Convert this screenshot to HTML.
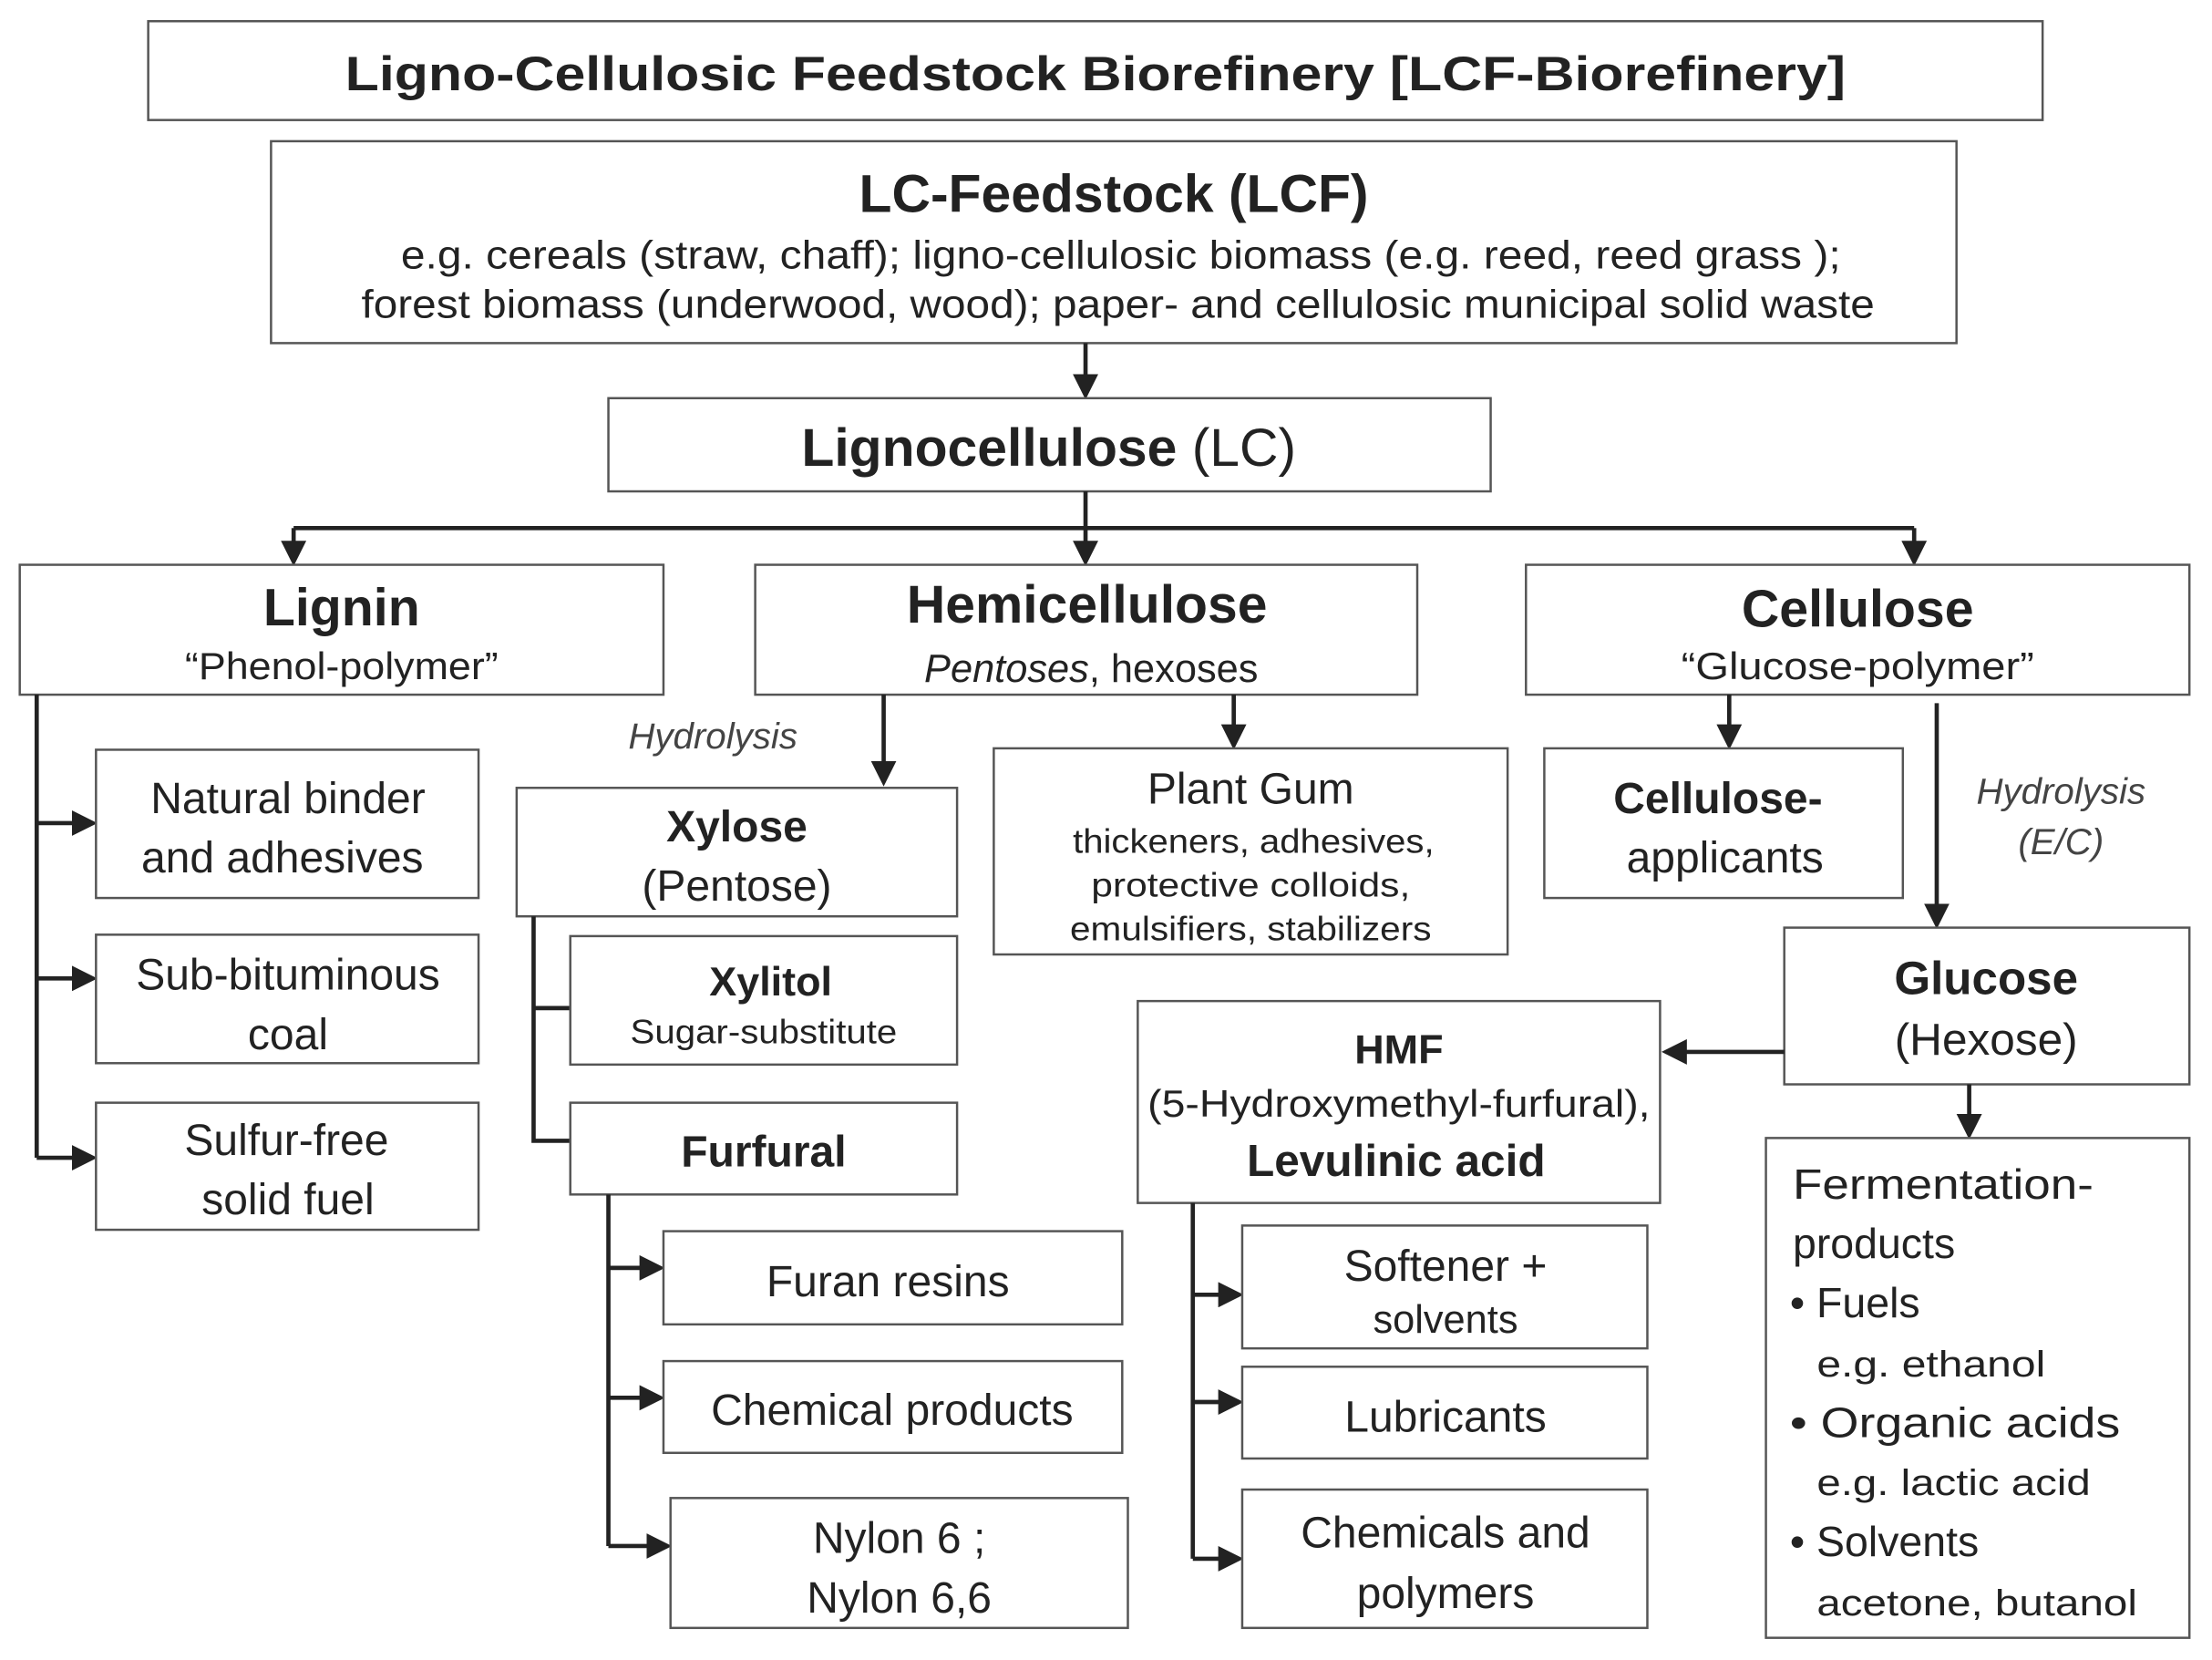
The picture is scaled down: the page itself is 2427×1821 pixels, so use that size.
<!DOCTYPE html>
<html><head><meta charset="utf-8"><style>
html,body{margin:0;padding:0;background:#fff}
svg{display:block}
text{font-family:"Liberation Sans",Arial,sans-serif;fill:#222}
.b{font-weight:bold}
.i{font-style:italic;fill:#444}
rect{fill:#fff;stroke:#555;stroke-width:1.6}
.l{stroke:#222;stroke-width:3;fill:none}
</style></head><body>
<svg width="2427" height="1821" viewBox="0 0 1567 1175.7" xmlns="http://www.w3.org/2000/svg">
<defs><marker id="a" markerWidth="6" markerHeight="6" refX="5" refY="3" orient="auto" markerUnits="strokeWidth"><path d="M0,0 L6,3 L0,6 z" fill="#222"/></marker></defs>
<g text-anchor="middle">
<rect x="105" y="15" width="1342" height="70"/>
<text x="776" y="64" font-size="34" class="b" textLength="1063" lengthAdjust="spacingAndGlyphs">Ligno-Cellulosic Feedstock Biorefinery  [LCF-Biorefinery]</text>
<rect x="192" y="100" width="1194" height="143"/>
<text x="789" y="150" font-size="38" class="b">LC-Feedstock (LCF)</text>
<text x="794" y="190" font-size="28" textLength="1020" lengthAdjust="spacingAndGlyphs">e.g. cereals (straw, chaff); ligno-cellulosic biomass (e.g. reed, reed grass );</text>
<text x="792" y="225" font-size="28" textLength="1072" lengthAdjust="spacingAndGlyphs">forest biomass (underwood, wood); paper- and cellulosic municipal solid waste</text>
<line class="l" x1="769" y1="243" x2="769" y2="280" marker-end="url(#a)"/>
<rect x="431" y="282" width="625" height="66"/>
<text x="743" y="330" font-size="38"><tspan class="b">Lignocellulose</tspan> (LC)</text>
<path class="l" d="M769 348 V374 M208 374 H1356"/>
<line class="l" x1="208" y1="374" x2="208" y2="398" marker-end="url(#a)"/>
<line class="l" x1="769" y1="374" x2="769" y2="398" marker-end="url(#a)"/>
<line class="l" x1="1356" y1="374" x2="1356" y2="398" marker-end="url(#a)"/>
<rect x="14" y="400" width="456" height="92"/>
<text x="242" y="443" font-size="37" class="b">Lignin</text>
<text x="242" y="481" font-size="27" textLength="222" lengthAdjust="spacingAndGlyphs">“Phenol-polymer”</text>
<rect x="535" y="400" width="469" height="92"/>
<text x="770" y="441" font-size="38" class="b">Hemicellulose</text>
<text x="773" y="483" font-size="28"><tspan font-style="italic">Pentoses</tspan>, hexoses</text>
<rect x="1081" y="400" width="470" height="92"/>
<text x="1316" y="444" font-size="37" class="b">Cellulose</text>
<text x="1316" y="481" font-size="27" textLength="250" lengthAdjust="spacingAndGlyphs">“Glucose-polymer”</text>
<path class="l" d="M26 492 V820"/>
<line class="l" x1="26" y1="583" x2="66" y2="583" marker-end="url(#a)"/>
<line class="l" x1="26" y1="693" x2="66" y2="693" marker-end="url(#a)"/>
<line class="l" x1="26" y1="820" x2="66" y2="820" marker-end="url(#a)"/>
<rect x="68" y="531" width="271" height="105"/>
<text x="204" y="576" font-size="31">Natural binder</text>
<text x="200" y="618" font-size="31">and  adhesives</text>
<rect x="68" y="662" width="271" height="91"/>
<text x="204" y="701" font-size="31">Sub-bituminous</text>
<text x="204" y="743" font-size="31">coal</text>
<rect x="68" y="781" width="271" height="90"/>
<text x="203" y="818" font-size="31">Sulfur-free</text>
<text x="204" y="860" font-size="31">solid fuel</text>
<line class="l" x1="626" y1="492" x2="626" y2="554" marker-end="url(#a)"/>
<line class="l" x1="874" y1="492" x2="874" y2="528" marker-end="url(#a)"/>
<text x="505" y="530" font-size="26" class="i">Hydrolysis</text>
<rect x="366" y="558" width="312" height="91"/>
<text x="522" y="596" font-size="31" class="b">Xylose</text>
<text x="522" y="638" font-size="31">(Pentose)</text>
<path class="l" d="M378 649 V808 H404 M378 714 H404"/>
<rect x="404" y="663" width="274" height="91"/>
<text x="546" y="705" font-size="29" class="b">Xylitol</text>
<text x="541" y="739" font-size="24" textLength="189" lengthAdjust="spacingAndGlyphs">Sugar-substitute</text>
<rect x="404" y="781" width="274" height="65"/>
<text x="541" y="826" font-size="31" class="b">Furfural</text>
<path class="l" d="M431 846 V1095"/>
<line class="l" x1="431" y1="898" x2="468" y2="898" marker-end="url(#a)"/>
<line class="l" x1="431" y1="990" x2="468" y2="990" marker-end="url(#a)"/>
<line class="l" x1="431" y1="1095" x2="473" y2="1095" marker-end="url(#a)"/>
<rect x="470" y="872" width="325" height="66"/>
<text x="629" y="918" font-size="31">Furan resins</text>
<rect x="470" y="964" width="325" height="65"/>
<text x="632" y="1009" font-size="31">Chemical products</text>
<rect x="475" y="1061" width="324" height="92"/>
<text x="637" y="1100" font-size="31">Nylon 6 ;</text>
<text x="637" y="1142" font-size="31">Nylon 6,6</text>
<rect x="704" y="530" width="364" height="146"/>
<text x="886" y="569" font-size="31">Plant Gum</text>
<text x="888" y="604" font-size="24" textLength="256" lengthAdjust="spacingAndGlyphs">thickeners, adhesives,</text>
<text x="886" y="635" font-size="24" textLength="226" lengthAdjust="spacingAndGlyphs">protective colloids,</text>
<text x="886" y="666" font-size="24" textLength="256" lengthAdjust="spacingAndGlyphs">emulsifiers, stabilizers</text>
<line class="l" x1="1225" y1="492" x2="1225" y2="528" marker-end="url(#a)"/>
<rect x="1094" y="530" width="254" height="106"/>
<text x="1217" y="576" font-size="31" class="b">Cellulose-</text>
<text x="1222" y="618" font-size="31">applicants</text>
<line class="l" x1="1372" y1="498" x2="1372" y2="655" marker-end="url(#a)"/>
<text x="1460" y="569" font-size="26" class="i">Hydrolysis</text>
<text x="1460" y="605" font-size="26" class="i">(E/C)</text>
<rect x="1264" y="657" width="287" height="111"/>
<text x="1407" y="704" font-size="33" class="b">Glucose</text>
<text x="1407" y="747" font-size="32">(Hexose)</text>
<line class="l" x1="1264" y1="745" x2="1180" y2="745" marker-end="url(#a)"/>
<rect x="806" y="709" width="370" height="143"/>
<text x="991" y="753" font-size="29" class="b">HMF</text>
<text x="991" y="791" font-size="27" textLength="356" lengthAdjust="spacingAndGlyphs">(5-Hydroxymethyl-furfural),</text>
<text x="989" y="833" font-size="32" class="b">Levulinic acid</text>
<line class="l" x1="1395" y1="768" x2="1395" y2="804" marker-end="url(#a)"/>
<rect x="1251" y="806" width="300" height="354"/>
<path class="l" d="M845 852 V1104"/>
<line class="l" x1="845" y1="917" x2="878" y2="917" marker-end="url(#a)"/>
<line class="l" x1="845" y1="993" x2="878" y2="993" marker-end="url(#a)"/>
<line class="l" x1="845" y1="1104" x2="878" y2="1104" marker-end="url(#a)"/>
<rect x="880" y="868" width="287" height="87"/>
<text x="1024" y="907" font-size="31">Softener +</text>
<text x="1024" y="944" font-size="28">solvents</text>
<rect x="880" y="968" width="287" height="65"/>
<text x="1024" y="1014" font-size="31">Lubricants</text>
<rect x="880" y="1055" width="287" height="98"/>
<text x="1024" y="1096" font-size="31">Chemicals and</text>
<text x="1024" y="1139" font-size="31">polymers</text>
</g>
<g font-size="30">
<text x="1270" y="849" textLength="213" lengthAdjust="spacingAndGlyphs">Fermentation-</text>
<text x="1270" y="891">products</text>
<text x="1268" y="933">• Fuels</text>
<text x="1287" y="975" font-size="26" textLength="162" lengthAdjust="spacingAndGlyphs">e.g. ethanol</text>
<text x="1268" y="1018" textLength="234" lengthAdjust="spacingAndGlyphs">• Organic acids</text>
<text x="1287" y="1059" font-size="26" textLength="194" lengthAdjust="spacingAndGlyphs">e.g. lactic acid</text>
<text x="1268" y="1102">• Solvents</text>
<text x="1287" y="1144" font-size="26" textLength="227" lengthAdjust="spacingAndGlyphs">acetone, butanol</text>
</g>
</svg>
</body></html>
